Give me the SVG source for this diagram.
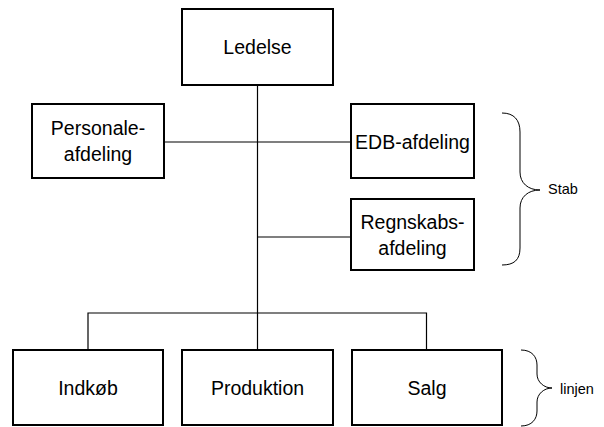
<svg xmlns="http://www.w3.org/2000/svg" width="604" height="427" viewBox="0 0 604 427">
  <style>
    .box { fill: #ffffff; stroke: #000000; stroke-width: 2; }
    .lbl { font-family: "Liberation Sans", Arial, sans-serif; font-size: 19.5px; fill: #000000; text-anchor: middle; }
    .note { font-family: "Liberation Sans", Arial, sans-serif; font-size: 14.5px; fill: #000000; }
    .wire { fill: none; stroke: #000000; stroke-width: 1.2; }
    .brace { fill: none; stroke: #000000; stroke-width: 1; }
  </style>
  <rect width="604" height="427" fill="#ffffff"/>

  <!-- connectors -->
  <g id="connectors">
    <path class="wire" d="M257.5,85 V313"/>
    <path class="wire" d="M164,142 H351"/>
    <path class="wire" d="M257.5,237 H351"/>
    <path class="wire" d="M88,350 V313 H426.5 V350"/>
    <path class="wire" d="M257.5,313 V350"/>
  </g>

  <g id="ledelse">
    <rect class="box" x="182" y="9" width="151" height="76"/>
    <text class="lbl" x="257.5" y="54">Ledelse</text>
  </g>

  <g id="personaleafdeling">
    <rect class="box" x="32" y="104" width="132" height="74"/>
    <text class="lbl" x="98" y="135">Personale-</text>
    <text class="lbl" x="98" y="161">afdeling</text>
  </g>

  <g id="edb-afdeling">
    <rect class="box" x="351" y="104" width="123" height="74"/>
    <text class="lbl" x="412.5" y="148.5">EDB-afdeling</text>
  </g>

  <g id="regnskabsafdeling">
    <rect class="box" x="351" y="199" width="123" height="71"/>
    <text class="lbl" x="412.5" y="228.5">Regnskabs-</text>
    <text class="lbl" x="412.5" y="254.5">afdeling</text>
  </g>

  <g id="indkoeb">
    <rect class="box" x="13" y="350" width="150" height="75"/>
    <text class="lbl" x="88" y="395">Indkøb</text>
  </g>

  <g id="produktion">
    <rect class="box" x="182" y="350" width="151" height="75"/>
    <text class="lbl" x="257.5" y="395">Produktion</text>
  </g>

  <g id="salg">
    <rect class="box" x="352" y="350" width="150" height="75"/>
    <text class="lbl" x="427" y="395">Salg</text>
  </g>

  <!-- staff bracket -->
  <g id="stab">
    <path class="brace" d="M502,113 C514,113 520,120 520,132 L520,172 C520,183 528,190 540,190 C528,190 520,197 520,208 L520,248 C520,260 514,265 502,265"/>
    <text class="note" x="548" y="194">Stab</text>
  </g>

  <!-- line bracket -->
  <g id="linjen">
    <path class="brace" d="M521,350 C532,350 537,357 537,365 L537,374 C537,382 544,388 552,388 C544,388 537,394 537,402 L537,411 C537,419 532,426 521,426"/>
    <text class="note" x="560" y="394">linjen</text>
  </g>
</svg>
